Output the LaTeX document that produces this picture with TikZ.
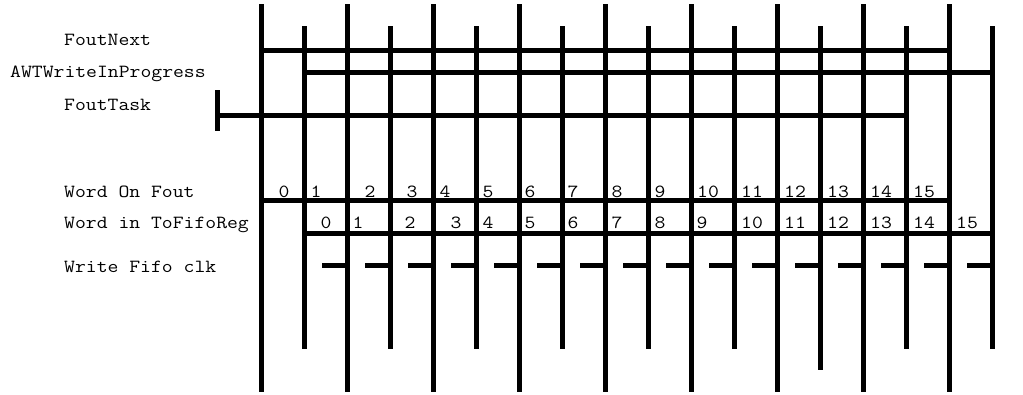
\documentclass[tikz,border=0pt]{standalone}
\usepackage{fontspec}
\setmonofont{Latin Modern Mono}[FakeStretch=1.14]
\usetikzlibrary{calc}

\begin{document}
\begin{tikzpicture}[
  x=1pt, y=-1pt,
  wire/.style={line width=5pt},
  lbl/.style={anchor=base west, inner sep=0pt, font=\ttfamily\fontsize{18.5}{20}\selectfont},
  num/.style={anchor=base, inner sep=0pt, font=\ttfamily\fontsize{18.5}{20}\selectfont},
]
  \useasboundingbox (0,0) rectangle (1023,394);

  % Signal names
  \node[lbl] (fnext) at (64,45) {FoutNext};
  \node[lbl] (awt) at (10,77) {AWTWriteInProgress};
  \node[lbl] (ftask) at (64,110) {FoutTask};
  \node[lbl] (wfout) at (64,197) {Word On Fout};
  \node[lbl] (wreg) at (64,228) {Word in ToFifoReg};
  \node[lbl] (wclk) at (64,272) {Write Fifo clk};

  % Rows
  \coordinate (rnext) at (0,50);
  \coordinate (rawt) at (0,72);
  \coordinate (rtask) at (0,115);
  \coordinate (rfout) at (0,200);
  \coordinate (rreg) at (0,233);
  \coordinate (rclk) at (0,265);

  % Clock edges
  \foreach \i [evaluate=\i as \xx using 261+43*\i] in {0,...,17}
    \coordinate (e\i) at (\xx,0);
  \foreach \i in {0,2,...,16}
    \draw[wire] ($(e\i)+(0,4)$) -- ($(e\i)+(0,392)$);
  \foreach \i in {1,3,...,11,15,17}
    \draw[wire] ($(e\i)+(0,26)$) -- ($(e\i)+(0,349)$);
  \draw[wire] ($(e13)+(0,26)$) -- ($(e13)+(0,370)$);

  % Control signals
  \draw[wire] (e0 |- rnext) -- (e16 |- rnext);
  \draw[wire] (e1 |- rawt) -- (e17 |- rawt);
  \coordinate (tstart) at (217,115);
  \draw[wire] ($(tstart)+(0,-25)$) -- ($(tstart)+(0,16)$);
  \draw[wire] (tstart) -- (e15 |- rtask);

  % Data words
  \draw[wire] (e0 |- rfout) -- (e16 |- rfout);
  \draw[wire] (e1 |- rreg) -- (e17 |- rreg);
  \foreach \x [count=\n from 0] in {284,316,370,412,445,488,530,573,617,660,708,752,795,838,881,924}
    \node[num] (fout\n) at (\x,197) {\n};
  \foreach \x [count=\n from 0] in {326,358,410,456,488,530,573,617,660,702,752,795,838,881,924,967}
    \node[num] (reg\n) at (\x,228) {\n};

  % Write clock pulses
  \foreach \i in {2,...,17}
    \draw[wire] ($(e\i |- rclk)+(-25,0)$) -- (e\i |- rclk);
\end{tikzpicture}
\end{document}
